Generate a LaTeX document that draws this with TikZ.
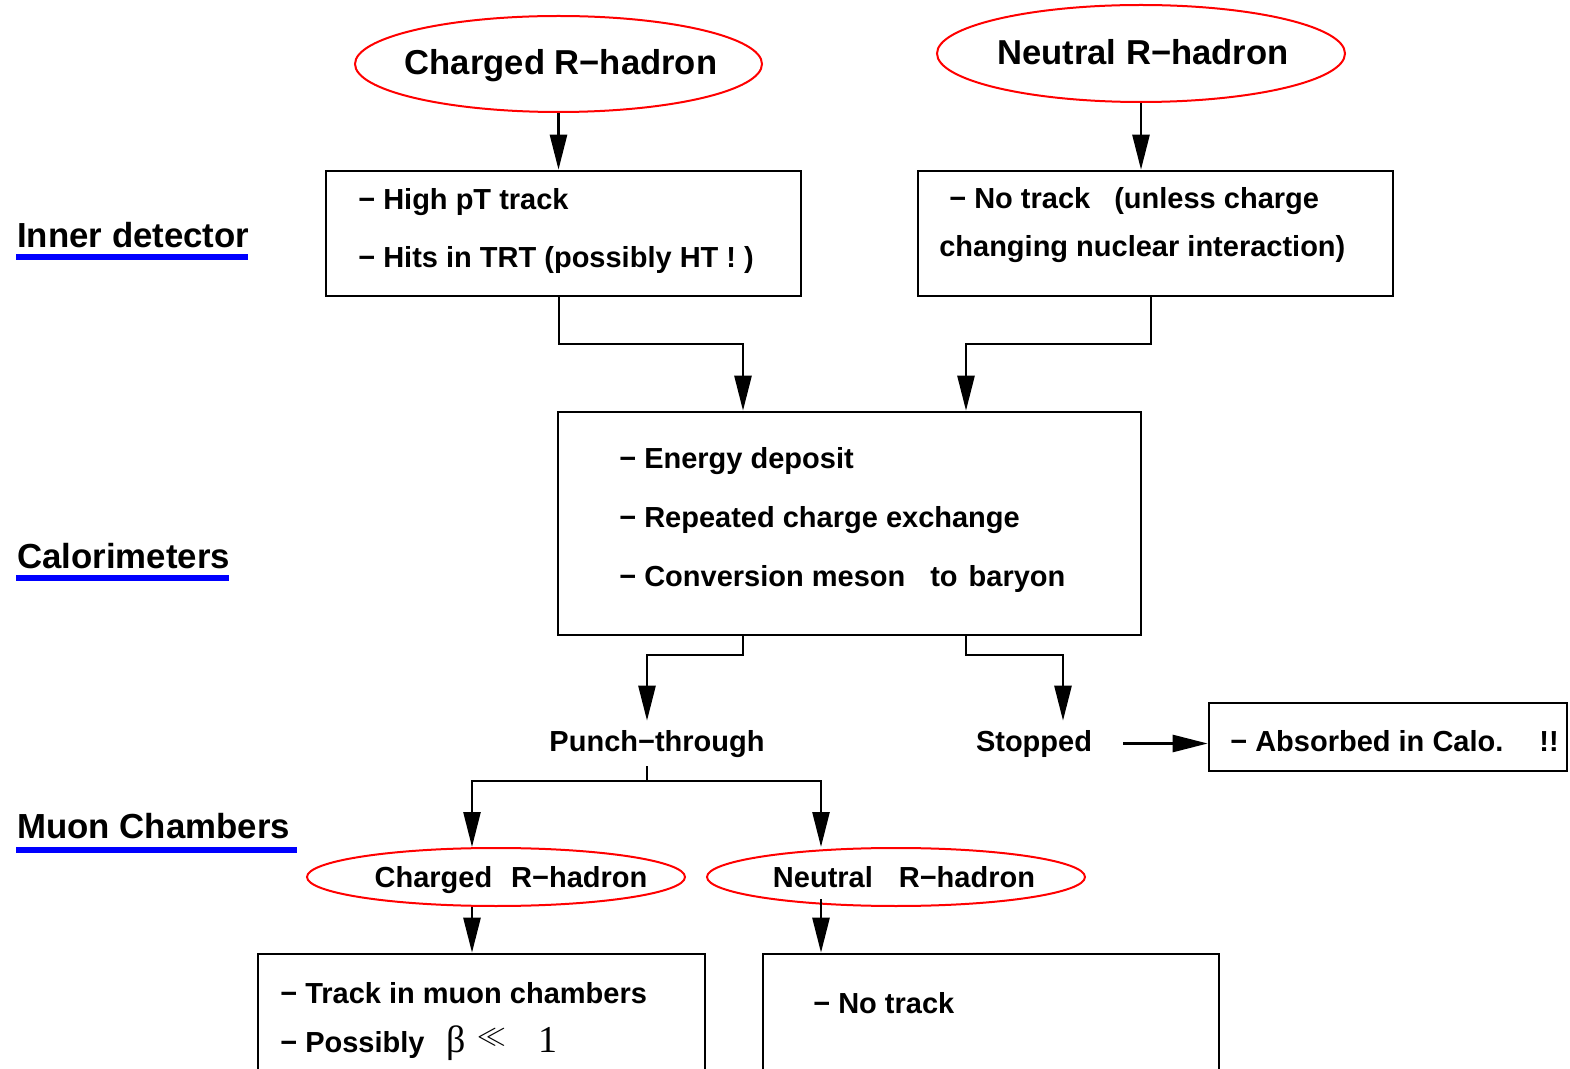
\documentclass[tikz,border=0pt]{standalone}
\usepackage{fontspec}
\setmainfont{Liberation Sans}
\newfontfamily\symserif{Liberation Serif}
\usetikzlibrary{shapes.geometric,arrows.meta}

\begin{document}
\begin{tikzpicture}[x=0.5pt,y=-0.5pt,line width=1.3pt,
    arr/.style={-{Triangle[length=17.5pt,width=8.5pt]}},
    box/.style={draw,rectangle,inner sep=0pt},
    oval/.style={draw=red,line width=1pt,ellipse,inner sep=0pt},
    txt/.style={anchor=base west,inner sep=0pt,font=\fontsize{14.5}{17}\selectfont\bfseries},
    big/.style={anchor=base,inner sep=0pt,font=\fontsize{17.3}{20}\selectfont\bfseries},
    mid/.style={anchor=base,inner sep=0pt,font=\fontsize{14.5}{17}\selectfont\bfseries},
    head/.style={anchor=base west,inner sep=0pt,font=\fontsize{17.4}{20}\selectfont\bfseries},
    uline/.style={draw=blue,line width=3pt}]
  \useasboundingbox (0,0) rectangle (1570,1069);
  \clip (0,0) rectangle (1570,1069);

  % detector parts
  \node[head] (lid) at (16,248) {Inner detector};
  \node[head] (lcal) at (16,568) {Calorimeters};
  \node[head] (lmu) at (16,838) {Muon Chambers};
  \draw[uline] (16,257.5) -- (248,257.5);
  \draw[uline] (16,578) -- (229,578);
  \draw[uline] (16,850) -- (297,850);

  % inner detector
  \node[oval,minimum width=203.5pt,minimum height=48pt] (chg) at (558.5,64) {};
  \node[big] (chgt) at (561,75) {Charged R−hadron};
  \node[oval,minimum width=204pt,minimum height=48.5pt] (neu) at (1141,53.5) {};
  \node[big] (neut) at (1143,65) {Neutral R−hadron};
  \node[box,minimum width=237.5pt,minimum height=62.5pt] (id1) at (563.5,233.5) {};
  \node[txt] (id1a) at (357,210) {− High pT track};
  \node[txt] (id1b) at (357,268) {− Hits in TRT (possibly HT ! )};
  \node[box,minimum width=237.5pt,minimum height=62.5pt] (id2) at (1155.5,233.5) {};
  \node[txt] (id2a) at (948,209) {− No track\hspace{12pt}(unless charge};
  \node[txt] (id2b) at (938,257) {changing nuclear interaction)};

  % calorimeters
  \node[box,minimum width=291.5pt,minimum height=111.5pt] (cal) at (849.5,523.5) {};
  \node[txt] (cala) at (618,469) {− Energy deposit};
  \node[txt] (calb) at (618,528) {− Repeated charge exchange};
  \node[txt] (calc) at (618,587) {− Conversion meson\hspace{12.5pt}to\hspace{5.5pt}baryon};
  \node[mid,inner sep=4pt] (pun) at (657,751) {Punch−through};
  \node[mid,inner sep=4pt] (stp) at (1034,751) {Stopped};
  \node[box,minimum width=179pt,minimum height=34pt] (abs) at (1388,737) {};
  \node[txt] (absa) at (1229,751) {− Absorbed in Calo.\hspace{18pt}!!};

  % muon chambers
  \node[oval,minimum width=189pt,minimum height=29pt] (cbot) at (496,877) {};
  \node[mid] (cbott) at (511,887) {Charged\hspace{9.5pt}R−hadron};
  \node[oval,minimum width=189pt,minimum height=29pt] (nbot) at (896,877) {};
  \node[mid] (nbott) at (904,887) {Neutral\hspace{13pt}R−hadron};
  \node[box,minimum width=223.5pt,minimum height=83pt] (mu1) at (481.5,1037) {};
  \node[txt] (mu1a) at (279,1003) {− Track in muon chambers};
  \node[txt] (mu1b) at (279,1052) {− Possibly\hspace{11pt}{\symserif\mdseries\fontsize{19}{20}\selectfont β}\hspace{6pt}\raisebox{4pt}{$\ll$}\hspace{16pt}{\symserif\mdseries\fontsize{19}{20}\selectfont 1}};
  \node[box,minimum width=228pt,minimum height=83pt] (mu2) at (991,1037) {};
  \node[txt] (mu2a) at (812,1013) {− No track};

  % turning points
  \coordinate (k1) at (559,344);
  \coordinate (k2) at (743,344);
  \coordinate (k3) at (1151,344);
  \coordinate (k4) at (966,344);
  \coordinate (k5) at (743,655);
  \coordinate (k6) at (647,655);
  \coordinate (k7) at (966,655);
  \coordinate (k8) at (1063,655);
  \coordinate (jn) at (647,781);
  \coordinate (m1) at (472,781);
  \coordinate (m2) at (821,781);

  \draw[arr] (chg.south) -- (id1.north -| chg.south);
  \draw[arr] (neu.south) -- (id2.north -| neu.south);
  \draw[arr] (id1.south -| k1) -- (k1) -| (cal.north -| k2);
  \draw[arr] (id2.south -| k3) -- (k3) -| (cal.north -| k4);
  \draw[arr] (cal.south -| k5) -- (k5) -| (pun.north -| k6);
  \draw[arr] (cal.south -| k7) -- (k7) -| (stp.north -| k8);
  \draw[arr] ([xshift=11pt]stp.east) -- (abs.west |- stp.east);
  \draw (pun.south -| jn) -- (jn);
  \draw[arr] (jn) -| (cbot.north -| m1);
  \draw[arr] (jn) -| (nbot.north -| m2);
  \draw[arr] (cbot.south -| m1) -- (mu1.north -| m1);
  \draw[arr] ([yshift=4pt]nbot.south -| m2) -- (mu2.north -| m2);
\end{tikzpicture}
\end{document}
